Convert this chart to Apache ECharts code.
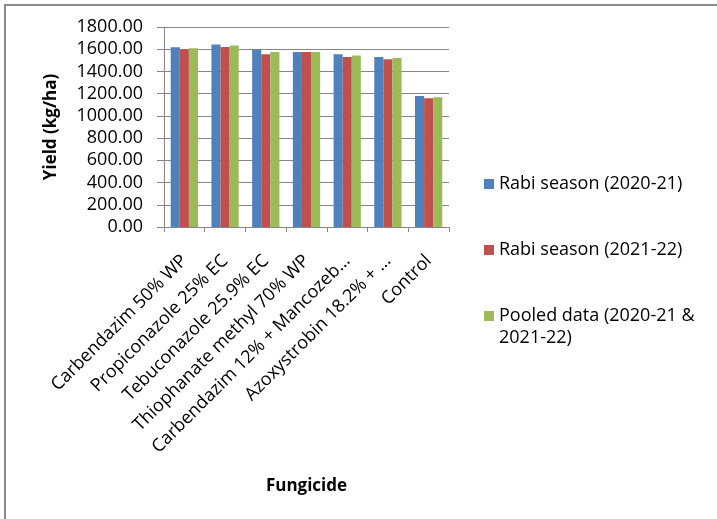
<!DOCTYPE html>
<html><head><meta charset="utf-8">
<script src="https://cdn.jsdelivr.net/npm/echarts@6/dist/echarts.min.js"></script>
<style>
html,body{margin:0;padding:0;background:#fff;overflow:hidden;}
#frame{position:absolute;left:4px;top:4px;width:800px;height:600px;border:2px solid #8a8a8a;box-sizing:border-box;}
#chart{position:absolute;left:0;top:0;width:717px;height:519px;}
</style></head>
<body>
<div id="frame"></div>
<div id="chart"></div>
<script>
const categories = ["Carbendazim 50% WP","Propiconazole 25% EC","Tebuconazole 25.9% EC","Thiophanate methyl 70% WP","Carbendazim 12% + Mancozeb…","Azoxystrobin 18.2% + …","Control"];
const rabi2021 = [1618, 1642, 1597, 1576, 1555, 1531, 1179];
const rabi2122 = [1600, 1621, 1555, 1576, 1531, 1510, 1158];
const pooled   = [1609, 1633, 1576, 1576, 1543, 1522, 1167];
const yTicks = [0, 200, 400, 600, 800, 1000, 1200, 1400, 1600, 1800];
const seriesNames = ["Rabi season (2020-21)","Rabi season (2021-22)","Pooled data (2020-21 &\n2021-22)"];
const colors = ["#4F81BD","#C0504D","#9BBB59"];

const chart = echarts.init(document.getElementById('chart'), null, {renderer:'canvas'});
const font = "'Open Sans', sans-serif";
const fs = 18;
const legendTops = [173, 239, 305];
const tallIcon = 'path://M0,0L10,0L10,10L0,10Z M0,32L0.001,32L0.001,32.001Z';
chart.setOption({
  animation:false,
  textStyle:{fontFamily:font},
  grid:{left:164, top:27, width:285, height:200, containLabel:false},
  legend: seriesNames.map((n,i)=>({
    data:[n], left:484, top:legendTops[i], orient:'vertical', padding:0,
    itemWidth:10, itemHeight: i===2 ? 32 : 10, itemGap:7,
    icon: i===2 ? tallIcon : 'rect',
    textStyle:{fontFamily:font, fontSize:fs, color:'#000', lineHeight:22}
  })),
  xAxis:{
    type:'category', data:categories,
    axisLine:{lineStyle:{color:'#868686', width:1}},
    axisTick:{show:true, length:5, lineStyle:{color:'#868686'}},
    axisLabel:{rotate:45, interval:0, margin:31, fontSize:fs, color:'#000', fontFamily:font},
    name:'Fungicide', nameLocation:'middle', nameGap:251,
    nameTextStyle:{fontFamily:font, fontSize:17, fontWeight:'bold', color:'#000'}
  },
  yAxis:{
    type:'value', min:0, max:1800, interval:200,
    axisLine:{show:true, lineStyle:{color:'#868686'}},
    axisTick:{show:true, length:7, lineStyle:{color:'#868686'}},
    splitLine:{show:true, lineStyle:{color:'#868686', width:1}},
    axisLabel:{margin:21, fontSize:fs, color:'#000', fontFamily:font,
      formatter:v=>yTicks.includes(v)?v.toFixed(2):''},
    name:'Yield (kg/ha)', nameLocation:'middle', nameGap:104, nameRotate:90,
    nameTextStyle:{fontFamily:font, fontSize:17, fontWeight:'bold', color:'#000'}
  },
  series:[rabi2021, rabi2122, pooled].map((d,i)=>({
    name:seriesNames[i], type:'bar', data:d, barGap:'0%', barCategoryGap:'33%',
    itemStyle:{color:colors[i]}
  }))
});
</script>
</body></html>
